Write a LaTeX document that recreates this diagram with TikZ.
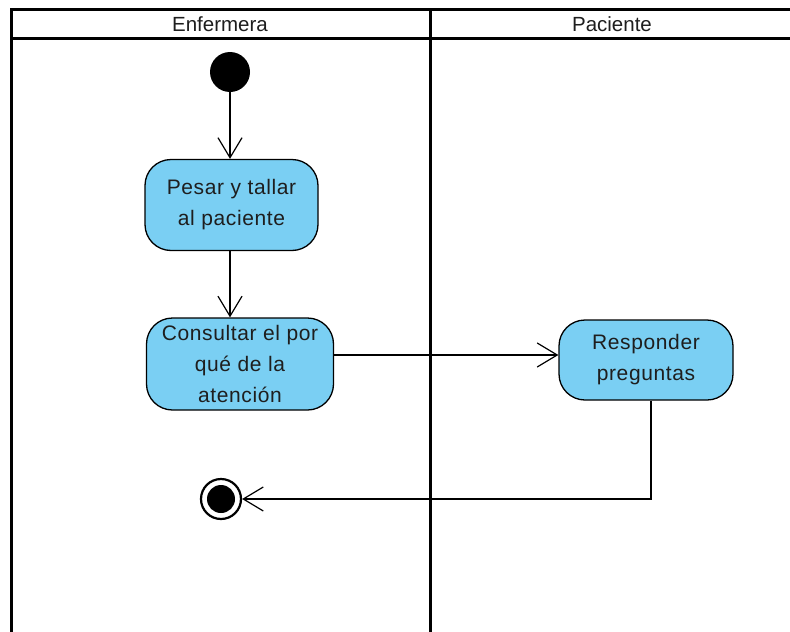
\documentclass[tikz,border=0pt]{standalone}
\usepackage{fontspec}
\setmainfont{Liberation Sans}
\usetikzlibrary{arrows.meta,calc}
\definecolor{actfill}{RGB}{122,207,243}
\definecolor{ink}{RGB}{30,30,30}
\begin{document}
\begin{tikzpicture}[x=1pt,y=-1pt,
  lane/.style={line width=3pt, line cap=rect},
  lanehead/.style={font=\fontsize{20.5}{20.5}\selectfont, inner sep=0pt, text=ink},
  act/.style={draw, line width=1.3pt, fill=actfill, rounded corners=26pt,
    align=center, inner sep=0pt, text=ink,
    font=\fontsize{21}{31}\selectfont\addfontfeature{LetterSpace=3}},
  flow/.style={line width=1.2pt, -{Straight Barb[length=20pt,width=24pt,line width=1.2pt]}},
  startnode/.style={circle, fill=black, minimum size=40pt, inner sep=0pt},
  endring/.style={circle, draw, line width=2.2pt, minimum size=40pt, inner sep=0pt},
  enddot/.style={circle, fill=black, minimum size=28pt, inner sep=0pt}]
\useasboundingbox (0,0) rectangle (790,632);

% swimlanes
\draw[lane] (795,9) -- (11,9) -- (11,640);
\draw[lane] (11,38) -- (795,38);
\draw[lane] (430,9) -- (430,640);
\node[lanehead] (laneA) at (220,24) {Enfermera};
\node[lanehead] (laneB) at (612,24) {Paciente};

% activity nodes
\node[startnode] (start) at (230,72) {};
\node[act, minimum width=173pt, minimum height=91pt] (pesar) at (231.5,205)
  {Pesar y tallar\\al paciente};
\node[act, minimum width=187pt, minimum height=92pt] (cons) at (240,364)
  {Consultar el por\\qué de la\\atención};
\node[act, minimum width=174pt, minimum height=80pt] (resp) at (646,360)
  {Responder\\preguntas};
\node[endring] (fin) at (221,499) {};
\node[enddot] (findot) at (fin) {};

% control flows
\draw[flow] (start) -- (start |- pesar.north);
\draw[flow] (start |- pesar.south) -- (start |- cons.north);
\coordinate (into) at ([yshift=5pt]resp.west);
\draw[flow] (cons.east |- into) -- (into);
\draw[flow] ([xshift=5pt]resp.south) |- (fin.east);
\end{tikzpicture}
\end{document}
